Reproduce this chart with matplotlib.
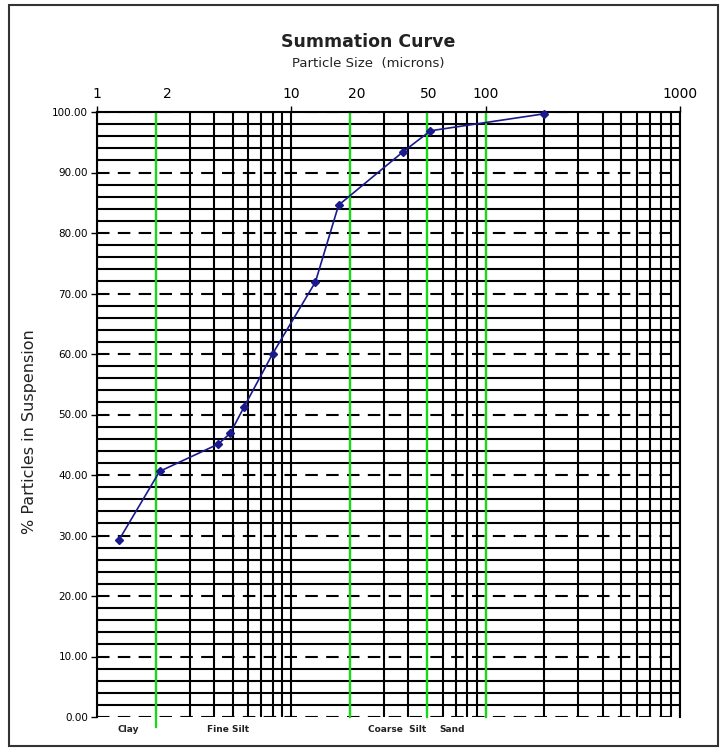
import matplotlib
matplotlib.use("Agg")
import matplotlib.pyplot as plt
from matplotlib.ticker import FixedLocator, MultipleLocator, NullFormatter, FuncFormatter, LogLocator
from matplotlib.patches import Rectangle

plt.rcParams["font.family"] = ["DejaVu Sans"]

# readings
size_um = [1.3, 2.1, 4.2, 4.85, 5.7, 8.0, 13.3, 17.5, 37.5, 52, 200]
pct_suspension = [29.3, 40.6, 45.1, 46.9, 51.2, 60.0, 71.9, 84.6, 93.4, 96.9, 99.7]

# size class boundaries (green) and names along the bottom
class_limits = [2, 20, 50, 100]
class_names = ["Clay", "Fine Silt", "Coarse  Silt", "Sand"]
class_name_x = [1.45, 4.7, 35, 67]

major_x = [1, 10, 100, 1000]
extra_top_labels = ["2", "20", "50"]
extra_top_x = [2.3, 21.6, 50.8]

W, H = 725, 751
fig = plt.figure(figsize=(W / 100, H / 100), dpi=100)
ax = fig.add_axes([97 / W, 1 - 717 / H, (680 - 97) / W, (717 - 112) / H])

ax.set_xscale("log")
ax.set_xlim(1, 1000)
ax.set_ylim(0, 100)

# grid
ax.xaxis.set_major_locator(FixedLocator(major_x))
ax.xaxis.set_minor_locator(LogLocator(base=10, subs=range(2, 10)))
ax.xaxis.set_minor_formatter(NullFormatter())
ax.xaxis.set_major_formatter(FuncFormatter(lambda v, p: f"{v:g}"))
ax.yaxis.set_major_locator(MultipleLocator(10))
ax.yaxis.set_minor_locator(MultipleLocator(2))
ax.yaxis.set_major_formatter(FuncFormatter(lambda v, p: f"{v:.2f}"))

ax.grid(which="both", axis="x", color="black", lw=1.5, zorder=1)
ax.grid(which="minor", axis="y", color="black", lw=1.5, zorder=1)
ax.grid(which="major", axis="y", color="black", lw=1.5, linestyle=(0, (6, 4)), zorder=1)
ax.set_axisbelow(True)

ax.spines["bottom"].set_visible(False)
for s in ["top", "left", "right"]:
    ax.spines[s].set_linewidth(1.5)

ax.xaxis.tick_top()
ax.tick_params(axis="x", which="major", direction="out", length=4, width=1, labelsize=10, pad=4)
ax.tick_params(axis="x", which="minor", length=0)
ax.tick_params(axis="y", which="major", direction="out", length=4, width=1, labelsize=7.5, pad=2.5)
ax.tick_params(axis="y", which="minor", length=0)

for lbl, x in zip(extra_top_labels, extra_top_x):
    ax.annotate(lbl, xy=(x, 1), xycoords=("data", "axes fraction"),
                xytext=(0, 8), textcoords="offset points",
                ha="center", va="bottom", fontsize=10)

for i, lim in enumerate(class_limits):
    ax.axvline(lim, ymin=-0.017 if i == 0 else 0, color="#11dd11", lw=1.6,
               zorder=2, clip_on=False)

for name, x in zip(class_names, class_name_x):
    ax.text(x, -0.02, name, transform=ax.get_xaxis_transform(),
            ha="center", va="center", fontsize=6.5, fontweight="bold", color="#222222")

ax.plot(size_um, pct_suspension, color="#1a1a8c", lw=1.2, marker="D",
        markersize=4, zorder=3, clip_on=False)

fig.text(368 / W, 1 - 42 / H, "Summation Curve", ha="center", va="center",
         fontsize=12.5, fontweight="bold", color="#222222")
fig.text(368 / W, 1 - 64 / H, "Particle Size  (microns)", ha="center", va="center",
         fontsize=9.5, color="#222222")
fig.text(30 / W, 1 - 432 / H, "% Particles in Suspension", rotation=90,
         ha="center", va="center", fontsize=11.5, color="#222222")

fig.patches.append(Rectangle((9 / W, 1 - 746 / H), (718 - 9) / W, (746 - 5) / H,
                             transform=fig.transFigure, fill=False,
                             edgecolor="#333333", lw=1.5))

fig.savefig("out.png", dpi=100)
